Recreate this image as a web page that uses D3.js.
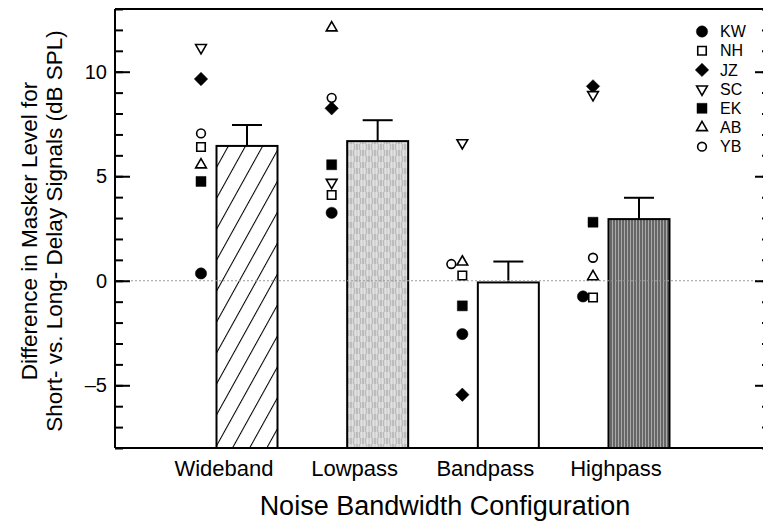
<!DOCTYPE html>
<html>
<head>
<meta charset="utf-8">
<script src="https://cdn.jsdelivr.net/npm/d3@7"></script>
<style>
body { margin: 0; background: #fff; }
svg { display: block; font-family: "Liberation Sans", Arial, Helvetica, sans-serif; }
</style>
</head>
<body>
<div id="chart"></div>
<script>
"use strict";

// ---- data ----
var categories = ["Wideband", "Lowpass", "Bandpass", "Highpass"];
var bar_means = [6.45, 6.68, -0.08, 2.95];
var bar_errors = [1.0, 1.0, 1.0, 1.02];

var subjects = ["KW", "NH", "JZ", "SC", "EK", "AB", "YB"];
var kw_values = [0.35, 3.25, -2.55, -0.75];
var nh_values = [6.4, 4.1, 0.25, -0.8];
var jz_values = [9.65, 8.25, -5.45, 9.3];
var sc_values = [11.15, 4.7, 6.6, 8.9];
var ek_values = [4.75, 5.55, -1.2, 2.8];
var ab_values = [5.55, 12.1, 0.9, 0.2];
var yb_values = [7.05, 8.75, 0.8, 1.1];
var subject_values = [kw_values, nh_values, jz_values, sc_values,
                      ek_values, ab_values, yb_values];

var y_domain = [-8, 13];
var y_major_ticks = [-5, 0, 5, 10];
var y_minor_ticks = d3.range(-8, 14);

// ---- layout ----
var width = 763, height = 523;
var plot_left = 115, plot_right = 770, plot_top = 9, plot_bottom = 448;

var svg = d3.select("#chart").append("svg")
    .attr("width", width)
    .attr("height", height);

var x = d3.scalePoint().domain(categories).range([224, 616]);
var y = d3.scaleLinear().domain(y_domain).range([plot_bottom, plot_top]);

var bar_offset = 23, bar_width = 61, point_offset = -23;

// ---- fill patterns ----
var defs = svg.append("defs");

var hatch = defs.append("pattern")
    .attr("id", "hatch")
    .attr("patternUnits", "userSpaceOnUse")
    .attr("width", 15).attr("height", 15)
    .attr("patternTransform", "rotate(29)");
hatch.append("rect").attr("width", 15).attr("height", 15).attr("fill", "#fff");
hatch.append("line")
    .attr("x1", 0.5).attr("y1", 0).attr("x2", 0.5).attr("y2", 15)
    .attr("stroke", "#000").attr("stroke-width", 1.1);

var light = defs.append("pattern")
    .attr("id", "light")
    .attr("patternUnits", "userSpaceOnUse")
    .attr("width", 12).attr("height", 12);
light.append("rect").attr("width", 12).attr("height", 12).attr("fill", "#bcbcbc");
light.append("rect").attr("width", 6).attr("height", 6).attr("fill", "#d4d4d4");
light.append("rect").attr("x", 6).attr("y", 6).attr("width", 6).attr("height", 6).attr("fill", "#d4d4d4");
[1, 4, 7, 10].forEach(function(px) {
    light.append("rect").attr("x", px).attr("width", 1).attr("height", 12)
        .attr("fill", "#ececec").attr("opacity", 0.55);
});

var dark = defs.append("pattern")
    .attr("id", "dark")
    .attr("patternUnits", "userSpaceOnUse")
    .attr("width", 3).attr("height", 6);
dark.append("rect").attr("width", 3).attr("height", 6).attr("fill", "#666");
dark.append("rect").attr("width", 1).attr("height", 6).attr("fill", "#aaa");

var bar_fills = ["url(#hatch)", "url(#light)", "#fff", "url(#dark)"];

// ---- bars ----
var bars = categories.map(function(c, i) {
    return { cat: c, mean: bar_means[i], err: bar_errors[i], fill: bar_fills[i] };
});

function bar_cx(d) { return x(d.cat) + bar_offset; }

svg.selectAll("rect.bar")
    .data(bars)
    .enter()
    .append("rect")
    .attr("class", "bar")
    .attr("x", function(d) { return bar_cx(d) - bar_width / 2; })
    .attr("y", function(d) { return y(d.mean); })
    .attr("width", bar_width)
    .attr("height", function(d) { return y(y_domain[0]) - y(d.mean); })
    .attr("fill", function(d) { return d.fill; })
    .attr("stroke", "#000")
    .attr("stroke-width", 2);

// error bars (upper half only)
svg.selectAll("line.err")
    .data(bars)
    .enter()
    .append("line")
    .attr("class", "err")
    .attr("x1", bar_cx).attr("x2", bar_cx)
    .attr("y1", function(d) { return y(d.mean); })
    .attr("y2", function(d) { return y(d.mean + d.err); })
    .attr("stroke", "#000").attr("stroke-width", 2);

svg.selectAll("line.cap")
    .data(bars)
    .enter()
    .append("line")
    .attr("class", "cap")
    .attr("x1", function(d) { return bar_cx(d) - 15; })
    .attr("x2", function(d) { return bar_cx(d) + 15; })
    .attr("y1", function(d) { return y(d.mean + d.err); })
    .attr("y2", function(d) { return y(d.mean + d.err); })
    .attr("stroke", "#000").attr("stroke-width", 2);

// zero reference line, drawn over the bars
svg.append("line")
    .attr("x1", plot_left).attr("x2", plot_right)
    .attr("y1", y(0)).attr("y2", y(0))
    .attr("stroke", "#9a9a9a")
    .attr("stroke-width", 1)
    .attr("stroke-dasharray", "2,2");

// ---- individual subject markers ----
var marker_styles = {
    KW: { shape: d3.symbolCircle, size: 100, filled: true, rotate: 0 },
    NH: { shape: d3.symbolSquare, size: 72, filled: false, rotate: 0 },
    JZ: { shape: d3.symbolSquare, size: 90, filled: true, rotate: 45 },
    SC: { shape: d3.symbolTriangle, size: 50, filled: false, rotate: 180 },
    EK: { shape: d3.symbolSquare, size: 100, filled: true, rotate: 0 },
    AB: { shape: d3.symbolTriangle, size: 50, filled: false, rotate: 0 },
    YB: { shape: d3.symbolCircle, size: 60, filled: false, rotate: 0 }
};

// nudge markers that would sit on top of each other
var nudges = { "Bandpass_YB": -11, "Highpass_KW": -10 };

function draw_marker(g, subj) {
    var st = marker_styles[subj];
    g.append("path")
        .attr("d", d3.symbol().type(st.shape).size(st.size)())
        .attr("transform", "rotate(" + st.rotate + ")")
        .attr("fill", st.filled ? "#000" : "#fff")
        .attr("stroke", "#000")
        .attr("stroke-width", st.filled ? 0.5 : 1.6);
}

var points = [];
subjects.forEach(function(subj, si) {
    categories.forEach(function(cat, ci) {
        points.push({ subj: subj, cat: cat, value: subject_values[si][ci] });
    });
});

svg.selectAll("g.pt")
    .data(points)
    .enter()
    .append("g")
    .attr("class", "pt")
    .attr("transform", function(d) {
        var dx = nudges[d.cat + "_" + d.subj] || 0;
        return "translate(" + (x(d.cat) + point_offset + dx) + "," + y(d.value) + ")";
    })
    .each(function(d) { draw_marker(d3.select(this), d.subj); });

// ---- frame and axes ----
var frame = svg.append("g")
    .attr("fill", "none").attr("stroke", "#000").attr("stroke-width", 2);
frame.append("line").attr("x1", plot_left).attr("x2", plot_right)
    .attr("y1", plot_top).attr("y2", plot_top);
frame.append("line").attr("x1", plot_left).attr("x2", plot_right)
    .attr("y1", plot_bottom).attr("y2", plot_bottom);
frame.append("line").attr("x1", plot_left).attr("x2", plot_left)
    .attr("y1", plot_top).attr("y2", plot_bottom);
frame.append("line").attr("x1", plot_right).attr("x2", plot_right)
    .attr("y1", plot_top).attr("y2", plot_bottom);

function inner_ticks(axis_fn, xpos, values, size) {
    var g = svg.append("g")
        .attr("transform", "translate(" + xpos + ",0)")
        .call(axis_fn(y).tickValues(values).tickSize(size).tickFormat(""));
    g.select(".domain").remove();
    g.selectAll(".tick line").attr("stroke", "#000").attr("stroke-width", 2);
}
inner_ticks(d3.axisRight, plot_left, y_minor_ticks, 8);
inner_ticks(d3.axisRight, plot_left, y_major_ticks, 15);
inner_ticks(d3.axisLeft, plot_right, y_minor_ticks, 8);
inner_ticks(d3.axisLeft, plot_right, y_major_ticks, 15);

var y_labels = svg.append("g")
    .attr("transform", "translate(" + plot_left + ",0)")
    .call(d3.axisLeft(y).tickValues(y_major_ticks).tickSize(0).tickPadding(8)
        .tickFormat(function(d) { return d < 0 ? "\u2013" + Math.abs(d) : d; }));
y_labels.select(".domain").remove();
y_labels.selectAll("text")
    .attr("font-family", "'Liberation Sans', Arial, sans-serif")
    .attr("font-size", 20)
    .attr("fill", "#000");

// category labels
svg.selectAll("text.cat")
    .data(categories)
    .enter()
    .append("text")
    .attr("class", "cat")
    .attr("x", function(d) { return x(d); })
    .attr("y", 476)
    .attr("text-anchor", "middle")
    .attr("font-size", 22)
    .text(function(d) { return d; });

svg.append("text")
    .attr("x", 445).attr("y", 515)
    .attr("text-anchor", "middle")
    .attr("font-size", 27)
    .text("Noise Bandwidth Configuration");

var ytitle = svg.append("text")
    .attr("transform", "translate(0,231) rotate(-90)")
    .attr("text-anchor", "middle")
    .attr("font-size", 22.5);
ytitle.append("tspan").attr("x", 0).attr("y", 37).text("Difference in Masker Level for");
ytitle.append("tspan").attr("x", 0).attr("y", 62).text("Short- vs. Long- Delay Signals (dB SPL)");

// ---- legend ----
var legend = svg.selectAll("g.legend")
    .data(subjects)
    .enter()
    .append("g")
    .attr("class", "legend")
    .attr("transform", function(d, i) {
        return "translate(702," + (31.5 + i * 19.2) + ")";
    });
legend.each(function(d) { draw_marker(d3.select(this), d); });
legend.append("text")
    .attr("x", 18)
    .attr("dy", "0.36em")
    .attr("font-size", 16)
    .text(function(d) { return d; });
</script>
</body>
</html>
